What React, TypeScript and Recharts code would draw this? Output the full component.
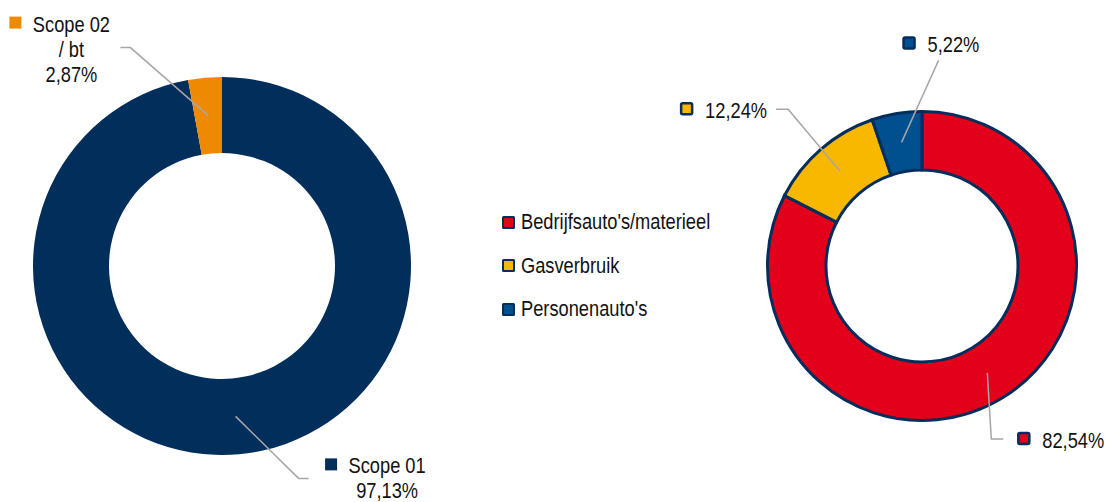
import { PieChart, Pie, Cell } from "recharts";

const LEFT_NAMES = ["Scope 01", "Scope 02 / bt"];
const LEFT_VALUES = [97.13, 2.87];
const LEFT_COLORS = ["#022e5b", "#ef8a00"];

const RIGHT_NAMES = ["Bedrijfsauto's/materieel", "Gasverbruik", "Personenauto's"];
const RIGHT_VALUES = [82.54, 12.24, 5.22];
const RIGHT_COLORS = ["#e2001a", "#f8b800", "#00508f"];

const NAVY = "#022d5c";
const LINE = "#a6a6a6";
const TEXT = "#111";
const FONT = "'Liberation Sans', Arial, sans-serif";
const FONT_SIZE = 22;
const SQUEEZE = 0.83; // the original uses a narrow face
const RADIAN = Math.PI / 180;

const leftData = LEFT_NAMES.map((name, i) => ({ name, value: LEFT_VALUES[i] }));
const rightData = RIGHT_NAMES.map((name, i) => ({ name, value: RIGHT_VALUES[i] }));

// leader line: elbow offset from the slice midpoint, then a short horizontal tail
const LEFT_LAYOUT = [
  { elbow: [63, 62], tail: 10, textDx: 78.5, baseDy: -5 },
  { elbow: [-78, -68], tail: -10, textDx: -49, baseDy: -16 },
];
const RIGHT_LAYOUT = [
  { elbow: [4, 66], tail: 12, textDx: 39, baseDy: 9 },
  { elbow: [-52, -62], tail: -12, textDx: -71, baseDy: 9 },
  { elbow: [37, -82], tail: 0, textDx: -11, baseDy: -8 },
];

const pct = (v: number) => `${v.toFixed(2).replace(".", ",")}%`;

function startPoint(props: any) {
  const { cx, cy, midAngle, innerRadius, outerRadius } = props;
  const r = (innerRadius + outerRadius) / 2;
  return [cx + r * Math.cos(-midAngle * RADIAN), cy + r * Math.sin(-midAngle * RADIAN)];
}

function NarrowText({ x, y, anchor = "start", children }: any) {
  return (
    <text
      transform={`translate(${x},${y}) scale(${SQUEEZE},1)`}
      x={0}
      y={0}
      textAnchor={anchor}
      fontFamily={FONT}
      fontSize={FONT_SIZE}
      fill={TEXT}
    >
      {children}
    </text>
  );
}

function LeftLabel(props: any) {
  const { index, value, name } = props;
  const lay = LEFT_LAYOUT[index];
  const [sx, sy] = startPoint(props);
  const ex = sx + lay.elbow[0];
  const ey = sy + lay.elbow[1];
  const tx = ex + lay.tail;
  const cxText = tx + lay.textDx;
  const base = ey + lay.baseDy;
  const lines = [...String(name).split(" / ").map((s, i) => (i > 0 ? "/ " + s : s)), pct(value)];
  return (
    <g>
      <polyline points={`${sx},${sy} ${ex},${ey} ${tx},${ey}`} fill="none" stroke={LINE} strokeWidth={1.5} />
      <rect x={cxText - 62} y={base - 15} width={12} height={12} fill={LEFT_COLORS[index]} />
      {lines.map((t, i) => (
        <NarrowText key={i} x={cxText} y={base + i * 25} anchor="middle">
          {t}
        </NarrowText>
      ))}
    </g>
  );
}

function RightLabel(props: any) {
  const { index, value } = props;
  const lay = RIGHT_LAYOUT[index];
  const [sx, sy] = startPoint(props);
  const ex = sx + lay.elbow[0];
  const ey = sy + lay.elbow[1];
  const tx = ex + lay.tail;
  const textX = tx + lay.textDx;
  const base = ey + lay.baseDy;
  return (
    <g>
      <polyline points={`${sx},${sy} ${ex},${ey} ${tx},${ey}`} fill="none" stroke={LINE} strokeWidth={1.5} />
      <rect x={textX - 24} y={base - 15} width={11} height={11} fill={RIGHT_COLORS[index]} stroke={NAVY} strokeWidth={2.5} rx={1.5} />
      <NarrowText x={textX} y={base}>
        {pct(value)}
      </NarrowText>
    </g>
  );
}

export default function App() {
  return (
    <div style={{ position: "absolute", left: 0, top: 0, width: 1109, height: 502, background: "#fff" }}>
      <PieChart width={1109} height={502} margin={{ top: 0, right: 0, bottom: 0, left: 0 }}>
        <Pie
          data={leftData}
          dataKey="value"
          nameKey="name"
          cx={222}
          cy={266}
          innerRadius={113}
          outerRadius={189}
          startAngle={90}
          endAngle={-270}
          stroke="none"
          label={LeftLabel}
          labelLine={false}
          isAnimationActive={false}
        >
          {leftData.map((d, i) => (
            <Cell key={d.name} fill={LEFT_COLORS[i]} />
          ))}
        </Pie>
        <Pie
          data={rightData}
          dataKey="value"
          nameKey="name"
          cx={922}
          cy={266}
          innerRadius={96}
          outerRadius={154.5}
          startAngle={90}
          endAngle={-270}
          stroke={NAVY}
          strokeWidth={3}
          label={RightLabel}
          labelLine={false}
          isAnimationActive={false}
        >
          {rightData.map((d, i) => (
            <Cell key={d.name} fill={RIGHT_COLORS[i]} stroke={NAVY} strokeWidth={3} />
          ))}
        </Pie>
      </PieChart>
      <div style={{ position: "absolute", left: 502, top: 200.5, fontFamily: FONT, fontSize: FONT_SIZE, color: TEXT }}>
        {RIGHT_NAMES.map((n, i) => (
          <div key={n} style={{ display: "flex", alignItems: "center", height: 43.5 }}>
            <span
              style={{
                width: 9,
                height: 9,
                background: RIGHT_COLORS[i],
                border: `2.5px solid ${NAVY}`,
                borderRadius: 1.5,
                marginRight: 6,
                display: "inline-block",
                flexShrink: 0,
              }}
            />
            <span style={{ display: "inline-block", transform: `scaleX(${SQUEEZE})`, transformOrigin: "left center", whiteSpace: "nowrap" }}>
              {n}
            </span>
          </div>
        ))}
      </div>
    </div>
  );
}
